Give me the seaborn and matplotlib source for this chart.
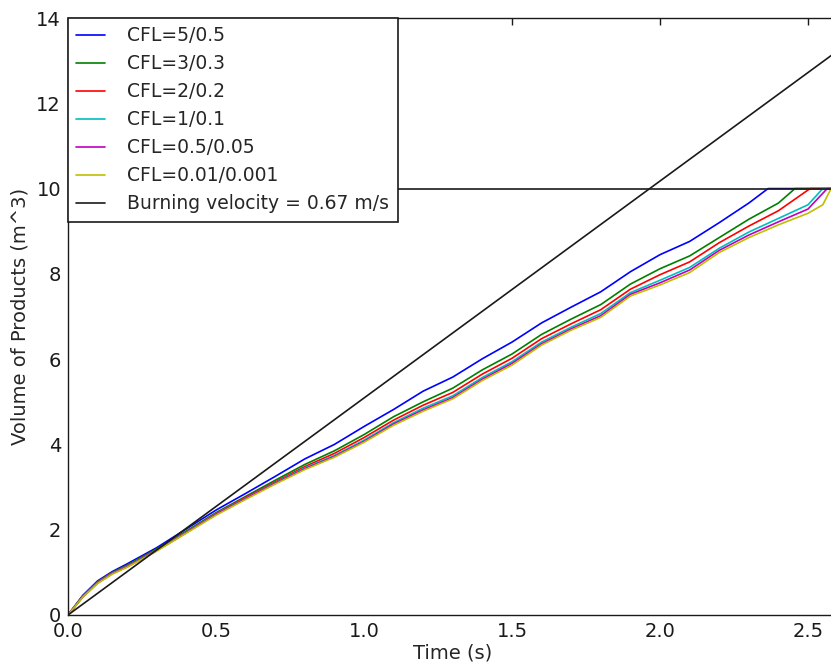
import numpy as np
import pandas as pd
import matplotlib
matplotlib.use("Agg")
import matplotlib.pyplot as plt
import seaborn as sns

# data
t_grid = [0, 0.05, 0.1, 0.15, 0.2, 0.3, 0.4, 0.5, 0.6, 0.7, 0.8, 0.9, 1.0, 1.1,
          1.2, 1.3, 1.4, 1.5, 1.6, 1.7, 1.8, 1.9, 2.0, 2.1, 2.2, 2.3]

t_cfl5 = t_grid + [2.365, 2.6]
v_cfl5 = [0, 0.46, 0.80, 1.02, 1.20, 1.58, 2.02, 2.46, 2.85, 3.25, 3.66, 4.00, 4.42, 4.82,
          5.25, 5.58, 6.01, 6.40, 6.85, 7.22, 7.58, 8.05, 8.45, 8.76, 9.20, 9.66, 10.0, 10.0]

t_cfl3 = t_grid + [2.4, 2.456, 2.6]
v_cfl3 = [0, 0.45, 0.78, 1.00, 1.17, 1.55, 1.97, 2.40, 2.78, 3.16, 3.53, 3.85, 4.23, 4.65,
          5.00, 5.32, 5.75, 6.12, 6.58, 6.94, 7.28, 7.76, 8.12, 8.42, 8.85, 9.28, 9.66, 10.0, 10.0]

t_cfl2 = t_grid + [2.4, 2.507, 2.6]
v_cfl2 = [0, 0.44, 0.77, 0.99, 1.15, 1.53, 1.95, 2.38, 2.76, 3.12, 3.48, 3.79, 4.16, 4.57,
          4.92, 5.22, 5.65, 6.02, 6.48, 6.83, 7.16, 7.64, 7.98, 8.28, 8.73, 9.12, 9.48, 10.0, 10.0]

t_cfl1 = t_grid + [2.4, 2.5, 2.55, 2.6]
v_cfl1 = [0, 0.43, 0.76, 0.98, 1.14, 1.52, 1.94, 2.37, 2.74, 3.10, 3.45, 3.74, 4.10, 4.51,
          4.85, 5.14, 5.57, 5.94, 6.40, 6.75, 7.07, 7.56, 7.85, 8.15, 8.60, 8.98, 9.30, 9.62, 10.0, 10.0]

t_cfl05 = t_grid + [2.4, 2.5, 2.565, 2.6]
v_cfl05 = [0, 0.42, 0.75, 0.97, 1.13, 1.51, 1.93, 2.36, 2.73, 3.09, 3.43, 3.72, 4.07, 4.48,
           4.81, 5.10, 5.53, 5.90, 6.36, 6.71, 7.02, 7.52, 7.79, 8.09, 8.55, 8.91, 9.22, 9.52, 10.0, 10.0]

t_cfl001 = t_grid + [2.4, 2.5, 2.55, 2.578, 2.6]
v_cfl001 = [0, 0.42, 0.74, 0.96, 1.12, 1.50, 1.92, 2.34, 2.71, 3.07, 3.41, 3.70, 4.05, 4.45,
            4.78, 5.07, 5.50, 5.86, 6.33, 6.68, 6.98, 7.48, 7.74, 8.03, 8.50, 8.85, 9.15, 9.42, 9.62, 10.0, 10.0]

t_burn = [0, 2.6]
v_burn = [0, 13.23]
v_limit = 10.0

labels = ["CFL=5/0.5", "CFL=3/0.3", "CFL=2/0.2", "CFL=1/0.1", "CFL=0.5/0.05", "CFL=0.01/0.001"]
colors = [(0, 0, 1), (0, 0.5, 0), (1, 0, 0), (0, 0.75, 0.75), (0.75, 0, 0.75), (0.75, 0.75, 0)]
burn_label = "Burning velocity = 0.67 m/s"

series = [(t_cfl5, v_cfl5), (t_cfl3, v_cfl3), (t_cfl2, v_cfl2),
          (t_cfl1, v_cfl1), (t_cfl05, v_cfl05), (t_cfl001, v_cfl001)]
frames = []
for lab, (tt, vv) in zip(labels, series):
    frames.append(pd.DataFrame({"Time": tt, "Volume": vv, "run": lab}))
df = pd.concat(frames, ignore_index=True)

sns.set_theme(style="white")
plt.rcParams["font.family"] = ["DejaVu Sans"]
plt.rcParams.update({
    "xtick.direction": "in", "ytick.direction": "in",
    "xtick.top": True, "ytick.right": True,
    "xtick.major.size": 5, "ytick.major.size": 5,
    "xtick.major.width": 1, "ytick.major.width": 1,
    "xtick.color": "k", "ytick.color": "k",
    "axes.edgecolor": "k", "axes.linewidth": 1.0,
    "xtick.major.pad": 5, "ytick.major.pad": 5,
})

fig = plt.figure(figsize=(8.31, 6.67), dpi=100)
ax = fig.add_axes([68 / 831, 52 / 667, 769.6 / 831, 597 / 667])

sns.lineplot(data=df, x="Time", y="Volume", hue="run", hue_order=labels,
             palette=colors, estimator=None, sort=False, lw=1.2, ax=ax, legend=False)
sns.lineplot(x=t_burn, y=v_burn, color="k", lw=1.2, ax=ax, legend=False)
ax.axhline(v_limit, color="k", lw=1.2)

ax.set_xlim(0, 2.6)
ax.set_ylim(0, 14)
ax.set_xticks([0, 0.5, 1.0, 1.5, 2.0, 2.5])
ax.set_xticklabels(["0.0", "0.5", "1.0", "1.5", "2.0", "2.5"])
ax.set_yticks(range(0, 15, 2))
ax.tick_params(labelsize=14)
ax.set_xlabel("Time (s)", fontsize=14, labelpad=2)
ax.set_ylabel("Volume of Products (m^3)", fontsize=14, labelpad=5)

handles = ax.lines[:6] + [ax.lines[6]]
leg = ax.legend(handles, labels + [burn_label], loc="upper left", borderaxespad=0,
                fancybox=False, framealpha=1, edgecolor="k", fontsize=13.5,
                handlelength=1.5, handletextpad=1.2, labelspacing=0.48, borderpad=0.45)
leg.get_frame().set_linewidth(1.2)

fig.savefig("out.png", dpi=100)
